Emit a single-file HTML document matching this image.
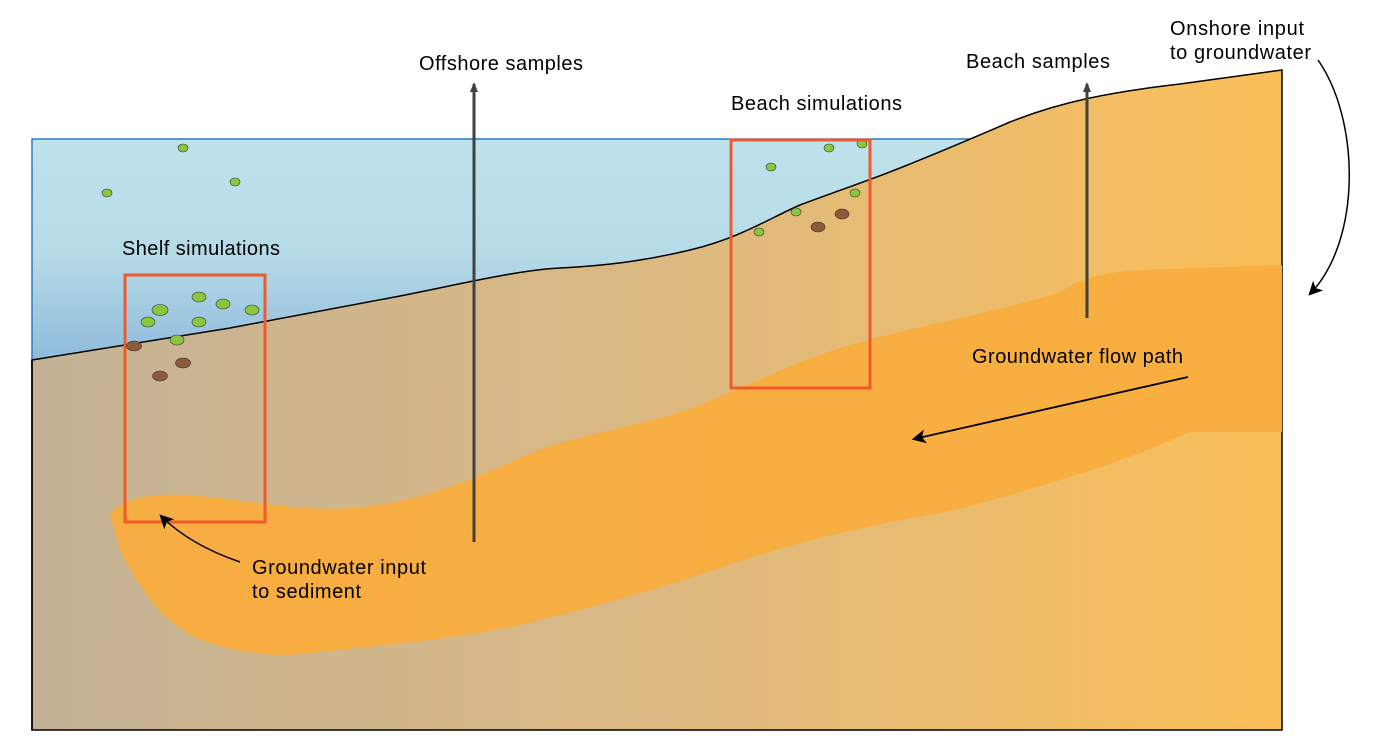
<!DOCTYPE html>
<html><head><style>body{margin:0;background:#fff}svg{display:block}text{font-family:"Liberation Sans",Arial,sans-serif;font-size:20px;fill:#000}</style></head><body>
<svg width="1379" height="747" viewBox="0 0 1379 747">
<defs>
<linearGradient id="w" x1="0" y1="0" x2="0" y2="1"><stop offset="0" stop-color="#bfe2eb"/><stop offset="0.5" stop-color="#b6dbe8"/><stop offset="1" stop-color="#8cb8da"/></linearGradient>
<linearGradient id="s" x1="0" y1="0" x2="1" y2="0"><stop offset="0" stop-color="#c4b296"/><stop offset="0.5" stop-color="#dcb982"/><stop offset="1" stop-color="#fbbf57"/></linearGradient>
<marker id="a" markerWidth="14" markerHeight="14" refX="10" refY="6" orient="auto" markerUnits="userSpaceOnUse" viewBox="0 0 12 12"><path d="M0,0 L12,6 L0,12 L3,6 z" fill="#000"/></marker>
<marker id="g" markerWidth="10" markerHeight="10" refX="8" refY="5" orient="auto" markerUnits="userSpaceOnUse" viewBox="0 0 10 10"><path d="M0,1 L10,5 L0,9 z" fill="#404040"/></marker>
</defs>
<rect x="32" y="139" width="965" height="230" fill="url(#w)" stroke="#2a7ac0" stroke-width="1.5"/>
<path d="M32,360 L230,328 L400,296 C470,282 520,270 560,268 C600,266 640,262 690,250 C740,238 770,218 800,205 C840,190 870,180 900,168 C950,148 980,135 1010,122 C1060,102 1110,92 1180,84 L1282,70 L1282,730 L32,730 Z" fill="url(#s)" stroke="#000" stroke-width="1.5"/>
<path d="M110,515 C120,498 150,493 190,495 C250,500 300,512 350,508 C420,503 470,480 520,458 C580,432 640,428 700,405 C760,380 800,360 850,345 C920,325 1000,312 1060,292 C1080,280 1100,272 1140,270 L1282,265 L1282,432 L1190,432 C1150,450 1110,465 1060,480 C1000,498 960,510 930,515 C870,525 800,540 720,568 C650,592 580,610 520,625 C450,640 380,645 320,652 C270,660 230,650 200,640 C160,620 140,590 120,550 Z" fill="#f9ad3e" opacity="0.95"/>
<line x1="32" y1="360" x2="32" y2="730" stroke="#000" stroke-width="1.5"/>
<g stroke="#333" stroke-width="0.6">
<g fill="#8cc63f">
<ellipse cx="183" cy="148" rx="5" ry="4"/><ellipse cx="235" cy="182" rx="5" ry="4"/><ellipse cx="107" cy="193" rx="5" ry="4"/>
<ellipse cx="199" cy="297" rx="7" ry="5"/><ellipse cx="160" cy="310" rx="8" ry="5.5"/><ellipse cx="223" cy="304" rx="7" ry="5"/><ellipse cx="252" cy="310" rx="7" ry="5"/><ellipse cx="148" cy="322" rx="7" ry="5"/><ellipse cx="199" cy="322" rx="7" ry="5"/><ellipse cx="177" cy="340" rx="7" ry="5"/>
<ellipse cx="771" cy="167" rx="5" ry="4"/><ellipse cx="829" cy="148" rx="5" ry="4"/><ellipse cx="862" cy="144" rx="5" ry="4"/><ellipse cx="855" cy="193" rx="5" ry="4"/><ellipse cx="796" cy="212" rx="5" ry="4"/><ellipse cx="759" cy="232" rx="5" ry="4"/>
</g>
<g fill="#8b5a3a">
<ellipse cx="134" cy="346" rx="7.5" ry="5"/><ellipse cx="183" cy="363" rx="7.5" ry="5"/><ellipse cx="160" cy="376" rx="7.5" ry="5"/>
<ellipse cx="842" cy="214" rx="7" ry="5"/><ellipse cx="818" cy="227" rx="7" ry="5"/>
</g></g>
<rect x="125" y="275" width="140" height="247" fill="none" stroke="#f05a2a" stroke-width="3"/>
<rect x="731" y="140" width="139" height="248" fill="none" stroke="#f05a2a" stroke-width="3"/>
<line x1="474" y1="542" x2="474" y2="84" stroke="#404040" stroke-width="3" marker-end="url(#g)"/>
<line x1="1087" y1="318" x2="1087" y2="84" stroke="#404040" stroke-width="3" marker-end="url(#g)"/>
<line x1="1188" y1="377" x2="914" y2="439" stroke="#000" stroke-width="1.8" marker-end="url(#a)"/>
<path d="M1318,60 C1360,120 1362,240 1310,294" fill="none" stroke="#000" stroke-width="1.5" marker-end="url(#a)"/>
<path d="M240,562 C205,550 180,535 161,516" fill="none" stroke="#000" stroke-width="1.5" marker-end="url(#a)"/>
<text x="419" y="70" textLength="164">Offshore samples</text>
<text x="731" y="110" textLength="171">Beach simulations</text>
<text x="966" y="68" textLength="144">Beach samples</text>
<text x="1170" y="35" textLength="134">Onshore input</text>
<text x="1170" y="59" textLength="141">to groundwater</text>
<text x="122" y="255" textLength="158">Shelf simulations</text>
<text x="972" y="363" textLength="211">Groundwater flow path</text>
<text x="252" y="574" textLength="174">Groundwater input</text>
<text x="252" y="598" textLength="109">to sediment</text>
</svg>
</body></html>
